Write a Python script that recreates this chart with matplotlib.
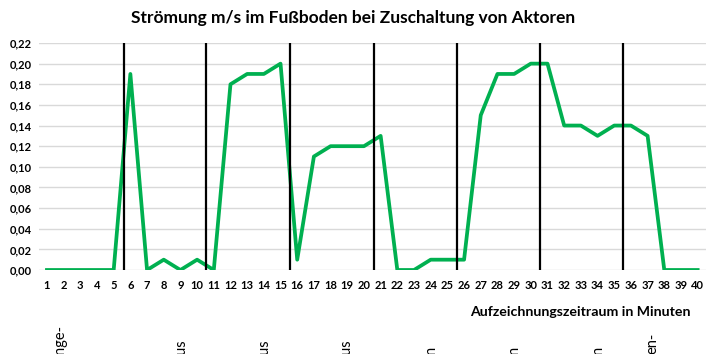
import matplotlib
matplotlib.use('Agg')
import matplotlib.pyplot as plt

# Messwerte (m/s) je Minute
minuten = list(range(1, 41))
stroemung = [0, 0, 0, 0, 0, 0.19, 0, 0.01, 0, 0.01,
             0, 0.18, 0.19, 0.19, 0.20, 0.01, 0.11, 0.12, 0.12, 0.12,
             0.13, 0, 0, 0.01, 0.01, 0.01, 0.15, 0.19, 0.19, 0.20,
             0.20, 0.14, 0.14, 0.13, 0.14, 0.14, 0.13, 0, 0, 0]

# Zeitpunkte der Zuschaltung (senkrechte Linien)
schaltpunkte = [5.6, 10.55, 15.55, 20.6, 25.55, 30.55, 35.5]

y_ticks = [0.00, 0.02, 0.04, 0.06, 0.08, 0.10, 0.12, 0.14, 0.16, 0.18, 0.20, 0.22]

# abgeschnittene Beschriftungen unten
unten_texte = ['nge-', 'us', 'us', 'us', 'n', 'n', 'n', 'en-']
unten_x = [60, 181, 264, 346, 431, 514, 598, 652]

plt.rcParams['font.family'] = ['Lato', 'DejaVu Sans']

fig = plt.figure(figsize=(7.07, 3.54), dpi=100)
ax = fig.add_axes([38.6 / 707, 84 / 354, (706 - 38.6) / 707, (270 - 43) / 354])

ax.plot(minuten, stroemung, color='#00b050', linewidth=2.7, zorder=3)
for s in schaltpunkte:
    ax.plot([s, s], [0, 0.22], color='black', linewidth=1.6, zorder=4)

ax.set_xlim(0.5, 40.5)
ax.set_ylim(0, 0.22)
ax.set_xticks(minuten)
ax.set_xticklabels([str(m) for m in minuten], fontsize=8, fontweight='bold')
ax.set_yticks(y_ticks)
ax.yaxis.set_major_formatter(plt.FuncFormatter(lambda v, p: ('%.2f' % v).replace('.', ',')))
for lab in ax.get_yticklabels():
    lab.set_fontsize(8)
    lab.set_fontweight('bold')
ax.tick_params(axis='y', length=0, pad=5, labelsize=8)
ax.tick_params(axis='x', length=0, pad=7, labelsize=8)
ax.grid(axis='y', color='#d9d9d9', linewidth=1)
ax.set_axisbelow(True)
for sp in ax.spines.values():
    sp.set_visible(False)

fig.text(0.5, 1 - 18 / 354, 'Strömung m/s im Fußboden bei Zuschaltung von Aktoren',
         ha='center', va='center', fontsize=12.5, fontweight='bold')
fig.text(580 / 707, 1 - 312 / 354, 'Aufzeichnungszeitraum in Minuten',
         ha='center', va='center', fontsize=10.2, fontweight='bold')

for t, x in zip(unten_texte, unten_x):
    fig.text(x / 707, 0, t, rotation=90, ha='center', va='bottom', fontsize=10.5)

fig.savefig('out.png', dpi=100)
